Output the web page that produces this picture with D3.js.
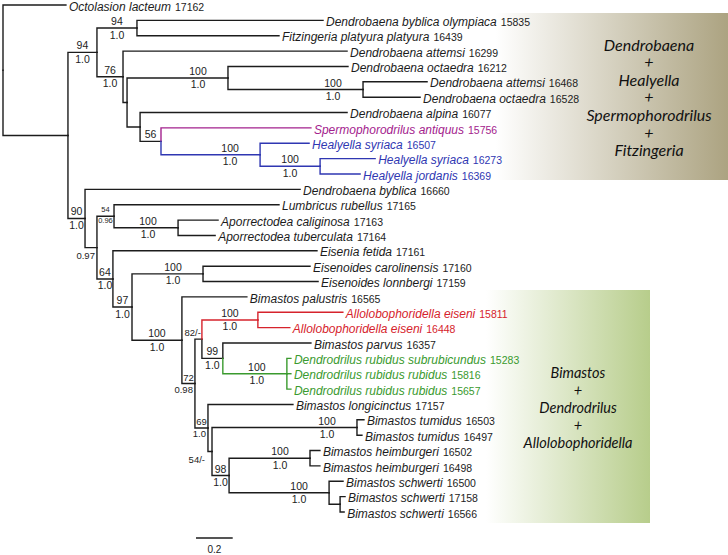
<!DOCTYPE html>
<html><head><meta charset="utf-8">
<script src="https://cdn.jsdelivr.net/npm/d3@7"></script>
<style>
body{margin:0;background:#fff;}
svg{display:block;font-family:"Liberation Sans",Arial,sans-serif;}
</style></head><body>
<svg id="chart" width="728" height="555"></svg>
<script>
// ---------------- DATA ----------------
// Tree topology with branch lengths (substitutions/site); internal labels = bootstrap/posterior
const treeNewick = [
 "(17162:0.343,(((15835:1.014,16439:0.774)94/1.0:0.218,",
 "(16299:1.221,((16212:0.654,(16468:0.349,16528:0.311)100/1.0:0.736)100/1.0:0.550,",
 "(16077:1.128,(15756:0.817,(16507:0.267,(16273:0.300,16369:0.218)100/1.0:0.327)100/1.0:0.540)56:0.114):0.071):0.022)76/1.0:0.142)94/1.0:0.158,",
 "(16660:1.172,((17165:0.899,(17163:0.218,17164:0.202)100/1.0:0.349)54/0.96:0.093,",
 "(17161:1.112,((17160:0.583,17159:0.627)100/1.0:0.387,",
 "(16565:0.354,(((15811:0.463,16448:0.174)100/1.0:0.305,",
 "(16357:0.480,(15283:0.022,15816:0.022,15657:0.022)100/1.0:0.349)99/1.0:0.114)82/-:0.038,",
 "(17157:0.463,((16503:0.038,16497:0.027)100/1.0:0.790,",
 "((16502:0.054,16498:0.054)100/1.0:0.441,(16500:0.076,(17158:0.027,16566:0.022):0.060)100/1.0:0.545)98/1.0:0.093)54/-:0.022)69/1.0:0.071)72/0.98:0.071)100/1.0:0.272)97/1.0:0.104)64/1.0:0.087)0.97:0.065)90/1.0:0.093):0.354);"
].join("");

const leafIds = ["17162","15835","16439","16299","16212","16468","16528","16077","15756","16507","16273","16369",
 "16660","17165","17163","17164","17161","17160","17159","16565","15811","16448","16357","15283","15816","15657",
 "17157","16503","16497","16502","16498","16500","17158","16566"];
const leafNames = ["Octolasion lacteum","Dendrobaena byblica olympiaca","Fitzingeria platyura platyura","Dendrobaena attemsi",
 "Dendrobaena octaedra","Dendrobaena attemsi","Dendrobaena octaedra","Dendrobaena alpina","Spermophorodrilus antiquus",
 "Healyella syriaca","Healyella syriaca","Healyella jordanis","Dendrobaena byblica","Lumbricus rubellus",
 "Aporrectodea caliginosa","Aporrectodea tuberculata","Eisenia fetida","Eisenoides carolinensis","Eisenoides lonnbergi",
 "Bimastos palustris","Allolobophoridella eiseni","Allolobophoridella eiseni","Bimastos parvus",
 "Dendrodrilus rubidus subrubicundus","Dendrodrilus rubidus rubidus","Dendrodrilus rubidus rubidus",
 "Bimastos longicinctus","Bimastos tumidus","Bimastos tumidus","Bimastos heimburgeri","Bimastos heimburgeri",
 "Bimastos schwerti","Bimastos schwerti","Bimastos schwerti"];
const leafGroups = ["","","","","","","","","sperm","heal","heal","heal","","","","","","","","","allo","allo","",
 "dendro","dendro","dendro","","","","","","","",""];
const topCladeLines = ["Dendrobaena","+","Healyella","+","Spermophorodrilus","+","Fitzingeria"];
const bottomCladeLines = ["Bimastos","+","Dendrodrilus","+","Allolobophoridella"];
const scaleBarValue = 0.2;

// ---------------- STYLE ----------------
const groupColor = {"":"#1c1c1c", sperm:"#a3228d", heal:"#2f37b2", allo:"#d6232c", dendro:"#3a9a2e"};
const tinyLabels = new Set(["54/0.96"]);
const belowSingle = new Set(["54/-"]);

// ---------------- PARSE ----------------
function parseNewick(str){
  const s = str.replace(/\s+/g,"");
  let i = 0;
  function node(){
    const n = {};
    if (s[i] === "("){
      i++; n.children = [node()];
      while (s[i] === ","){ i++; n.children.push(node()); }
      i++;
    }
    let lab = "";
    while (i < s.length && !":,();".includes(s[i])) lab += s[i++];
    n.label = lab;
    if (s[i] === ":"){ i++; let num=""; while (i < s.length && !",();".includes(s[i])) num += s[i++]; n.length = +num; }
    else n.length = 0;
    return n;
  }
  return node();
}

const nameById = {}, groupById = {};
leafIds.forEach((id,k)=>{ nameById[id]=leafNames[k]; groupById[id]=leafGroups[k]; });

const root = d3.hierarchy(parseNewick(treeNewick), d=>d.children);
root.eachBefore(d=>{ d.dist = (d.parent ? d.parent.dist : 0) + (d.parent ? d.data.length : 0); });

const xScale = d3.scaleLinear().domain([0,1]).range([3, 3+183.5]);
const leaves = root.leaves();
const yScale = d3.scaleLinear().domain([0, leaves.length-1]).range([5, 512]);
leaves.forEach((d,k)=>{ d.y = yScale(k); });
root.eachAfter(d=>{
  d.x = xScale(d.dist);
  if (d.children){
    d.y = (d.children[0].y + d.children[d.children.length-1].y)/2;
    const gs = new Set(d.children.map(c=>c.group));
    d.group = gs.size===1 ? [...gs][0] : "";
  } else d.group = groupById[d.data.label] || "";
});

const svg = d3.select("#chart");
const defs = svg.append("defs");
function grad(id, c){
  const g = defs.append("linearGradient").attr("id",id).attr("x1","0").attr("x2","1").attr("y1","0").attr("y2","0");
  g.append("stop").attr("offset","0").attr("stop-color","#fff");
  g.append("stop").attr("offset","0.22").attr("stop-color","#fff");
  g.append("stop").attr("offset","1").attr("stop-color",c);
}
grad("gTop","#aca381");
grad("gBot","#b7cd8b");

// clade boxes
svg.append("rect").attr("x",430).attr("y",13).attr("width",298).attr("height",167).attr("fill","url(#gTop)");
svg.append("rect").attr("x",440).attr("y",290).attr("width",210).attr("height",233).attr("fill","url(#gBot)");
svg.append("g").selectAll("text").data(topCladeLines).join("text")
  .attr("x",649).attr("y",(d,k)=>45+k*17.6).attr("dy","0.35em").attr("text-anchor","middle")
  .attr("font-family","Lato, sans-serif").attr("font-style","italic").attr("font-size",16).attr("fill","#111").text(d=>d);
svg.append("g").selectAll("text").data(bottomCladeLines).join("text")
  .attr("x",578).attr("y",(d,k)=>373+k*17.5).attr("dy","0.35em").attr("text-anchor","middle")
  .attr("font-family","Lato, sans-serif").attr("font-style","italic").attr("font-size",14.5).attr("fill","#111").text(d=>d);

// branches
const links = root.descendants().filter(d=>d.parent);
links.sort((a,b)=>(a.group?1:0)-(b.group?1:0));
svg.append("g").attr("fill","none").attr("stroke-width",1.4).attr("stroke-linecap","square")
  .selectAll("path").data(links).join("path")
  .attr("stroke",d=>groupColor[d.group])
  .attr("d",d=>`M${d.parent.x},${d.parent.y}V${d.y}H${d.x}`);

// leaf labels
const lt = svg.append("g").selectAll("text").data(leaves).join("text")
  .attr("x",d=>d.x+3).attr("y",d=>d.y).attr("dy","0.35em")
  .attr("fill",d=>groupColor[d.group]);
lt.append("tspan").attr("font-style","italic").attr("font-size",12).text(d=>nameById[d.data.label]);
lt.append("tspan").attr("font-size",10.5).attr("dx",4).text(d=>d.data.label);

// support labels
const sup = svg.append("g").attr("fill","#1c1c1c");
const ctx = document.createElement("canvas").getContext("2d");
function tw(t,fs){ ctx.font = fs+"px 'Liberation Sans', Arial"; return ctx.measureText(t).width; }
root.descendants().filter(d=>d.children && d.parent && d.data.label).forEach(d=>{
  const lab = d.data.label, px = d.parent.x, seg = d.x - px;
  const parts = lab.split("/");
  const tiny = tinyLabels.has(lab);
  const fs = tiny ? 7.5 : (seg < 15 ? 9.5 : 10.5);
  const mid = (px + d.x)/2;
  const cx = seg < 40 ? mid : Math.max(mid, d.x - 30);
  function put(t, yb){
    const w = tw(t,fs);
    if (w > seg) sup.append("text").attr("x",d.x-2).attr("y",yb).attr("text-anchor","end").attr("font-size",fs).text(t);
    else sup.append("text").attr("x",cx).attr("y",yb).attr("text-anchor","middle").attr("font-size",fs).text(t);
  }
  if (parts.length===2 && parts[1]==="-"){
    if (belowSingle.has(lab))
      sup.append("text").attr("x",px-3).attr("y",d.y+11).attr("text-anchor","end").attr("font-size",fs).text(lab);
    else
      sup.append("text").attr("x",d.x-1).attr("y",d.y-3).attr("text-anchor","end").attr("font-size",fs).text(lab);
  } else if (parts.length===2){
    put(parts[0], d.y - (tiny?4:3));
    put(parts[1], d.y + (tiny?6.5:(seg<15?9:10.5)));
  } else if (lab.includes(".")){
    put(lab, d.y + 11.5);
  } else {
    put(lab, d.y - 3);
  }
});

// scale bar
const sbx = 196, sby = 538;
svg.append("line").attr("x1",sbx).attr("x2",sbx + xScale(scaleBarValue)-xScale(0))
  .attr("y1",sby).attr("y2",sby).attr("stroke","#1c1c1c").attr("stroke-width",1.4);
svg.append("text").attr("x",sbx + (xScale(scaleBarValue)-xScale(0))/2).attr("y",553)
  .attr("text-anchor","middle").attr("font-size",10).attr("fill","#1c1c1c").text(scaleBarValue);
</script>
</body></html>
